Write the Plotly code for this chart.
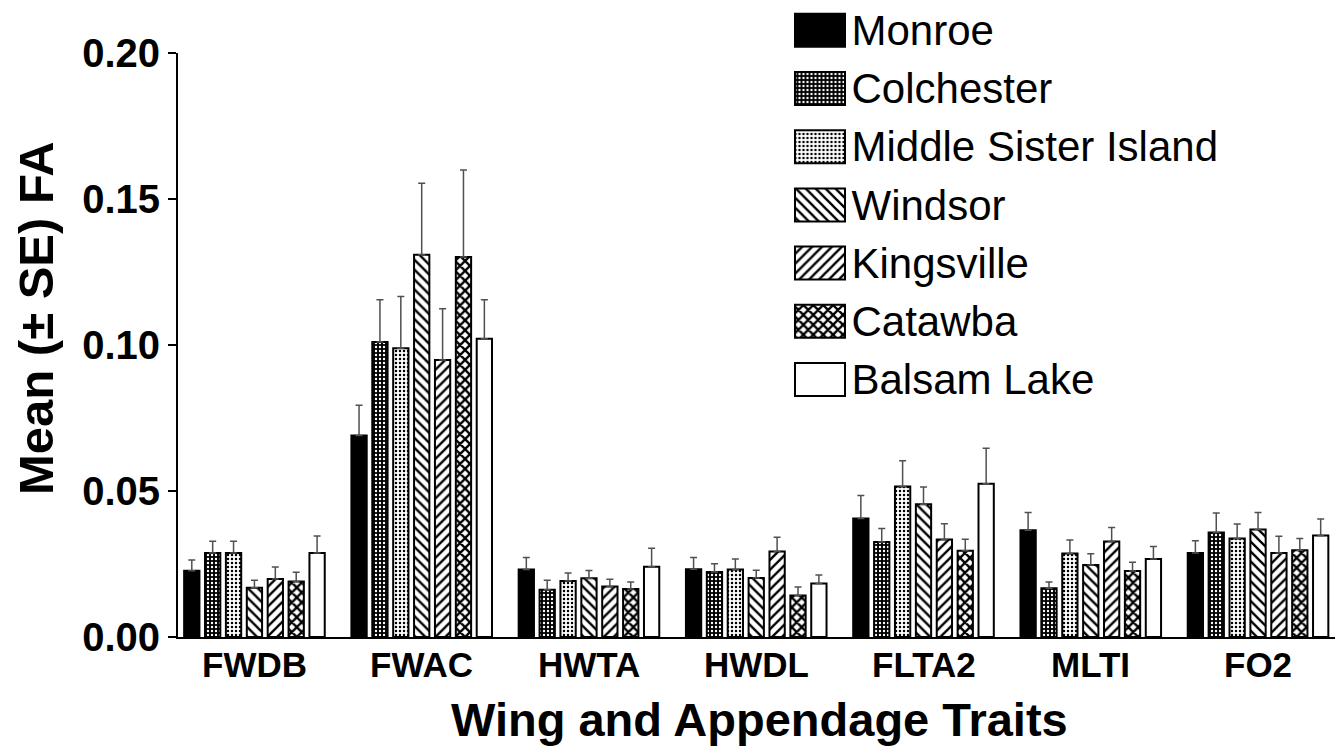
import plotly.graph_objects as go

traits = ["FWDB", "FWAC", "HWTA", "HWDL", "FLTA2", "MLTI", "FO2"]
populations = ["Monroe", "Colchester", "Middle Sister Island", "Windsor",
               "Kingsville", "Catawba", "Balsam Lake"]

monroe_mean = [0.0227, 0.0690, 0.0231, 0.0232, 0.0406, 0.0366, 0.0288]
monroe_se = [0.0037, 0.0104, 0.0041, 0.0040, 0.0079, 0.0060, 0.0042]
colchester_mean = [0.0288, 0.1010, 0.0162, 0.0223, 0.0325, 0.0167, 0.0358]
colchester_se = [0.0040, 0.0145, 0.0032, 0.0028, 0.0047, 0.0021, 0.0067]
msi_mean = [0.0288, 0.0989, 0.0192, 0.0231, 0.0515, 0.0286, 0.0337]
msi_se = [0.0040, 0.0177, 0.0027, 0.0036, 0.0089, 0.0046, 0.0050]
windsor_mean = [0.0169, 0.1309, 0.0201, 0.0202, 0.0455, 0.0247, 0.0368]
windsor_se = [0.0025, 0.0245, 0.0027, 0.0027, 0.0059, 0.0038, 0.0058]
kingsville_mean = [0.0199, 0.0949, 0.0173, 0.0293, 0.0334, 0.0327, 0.0288]
kingsville_se = [0.0041, 0.0175, 0.0025, 0.0049, 0.0054, 0.0048, 0.0057]
catawba_mean = [0.0190, 0.1301, 0.0164, 0.0142, 0.0295, 0.0226, 0.0297]
catawba_se = [0.0032, 0.0298, 0.0024, 0.0029, 0.0040, 0.0030, 0.0040]
balsam_mean = [0.0288, 0.1021, 0.0241, 0.0183, 0.0525, 0.0267, 0.0348]
balsam_se = [0.0058, 0.0134, 0.0063, 0.0029, 0.0121, 0.0043, 0.0056]

y_ticks = [0.00, 0.05, 0.10, 0.15, 0.20]
y_title = "Mean (\u00b1 SE) FA"
x_title = "Wing and Appendage Traits"

means = [monroe_mean, colchester_mean, msi_mean, windsor_mean,
         kingsville_mean, catawba_mean, balsam_mean]
ses = [monroe_se, colchester_se, msi_se, windsor_se,
       kingsville_se, catawba_se, balsam_se]

# fill styles: (shape, fg, bg, size, solidity)
styles = [
    ("", "black", "black", 8, 0.3),
    (".", "white", "black", 4, 0.28),
    (".", "black", "white", 4, 0.3),
    ("\\", "black", "white", 7, 0.33),
    ("/", "black", "white", 7, 0.33),
    ("x", "black", "white", 7, 0.55),
    ("", "white", "white", 8, 0.3),
]

FONT = "Liberation Sans, Arial, Helvetica, sans-serif"

# figure geometry (page body has an 8px margin)
W, H = 1335, 742
L, B = 170, 113
PW, PH = W - L, H - B          # plot area size


def fx(px):   # figure pixel x -> paper x
    return (px - L) / PW


def fy(py):   # figure pixel y (from top) -> paper y
    return (PH - py) / PH


def pattern(st):
    shape, fg, bg, size, sol = st
    return dict(shape=shape, fgcolor=fg, bgcolor=bg, size=size,
                solidity=sol, fillmode="replace")


fig = go.Figure()
for name, m, s, st in zip(populations, means, ses, styles):
    fig.add_trace(go.Bar(
        x=traits, y=m, name=name, showlegend=False,
        marker=dict(color=st[2], line=dict(color="black", width=2),
                    pattern=pattern(st)),
        error_y=dict(type="data", symmetric=False, array=s,
                     arrayminus=[0] * len(s), color="#505050",
                     thickness=1.5, width=3.5),
    ))

# legend drawn as an inset of horizontal swatches
for name, st in zip(populations, styles):
    fig.add_trace(go.Bar(
        y=[name], x=[1], orientation="h",
        xaxis="x2", yaxis="y2", showlegend=False,
        width=0.567, offset=-0.2835,
        marker=dict(color=st[2], line=dict(color="black", width=2),
                    pattern=pattern(st)),
        hoverinfo="skip",
    ))

leg_pitch = 58.2
leg_first = 22.3
leg_bottom = 400.6

fig.update_layout(
    width=W, height=H,
    margin=dict(l=L, r=0, t=0, b=B, pad=0, autoexpand=False),
    paper_bgcolor="white", plot_bgcolor="white",
    barmode="group", bargap=0.126, bargroupgap=0.268,
    font=dict(family=FONT, color="black"),
    xaxis=dict(type="category", range=[-0.457, 6.508],
               showline=True, linecolor="black", linewidth=2,
               ticks="", showgrid=False, zeroline=False,
               showticklabels=False, automargin=False),
    yaxis=dict(domain=[0, fy(45)], range=[0, 0.20],
               tickvals=y_ticks, tickformat=".2f",
               showline=True, linecolor="black", linewidth=2,
               ticks="outside", ticklen=8, tickwidth=2, tickcolor="black",
               showgrid=False, zeroline=False, automargin=False,
               tickfont=dict(size=40, weight="bold"),
               ticklabelstandoff=0),
    xaxis2=dict(domain=[fx(785.5), fx(838.5)],
                range=[-0.03, 1.03], anchor="y2", visible=False,
                fixedrange=True, automargin=False),
    yaxis2=dict(domain=[fy(leg_bottom), 1],
                anchor="x2", type="category",
                categoryorder="array", categoryarray=populations,
                range=[6.5, -leg_first / leg_pitch],
                side="right", showline=False, ticks="", showgrid=False,
                zeroline=False, tickfont=dict(size=42),
                ticklabelstandoff=4, automargin=False),
)

annotations = [
    dict(text=y_title, textangle=-90, xref="paper", yref="paper",
         x=fx(28), y=fy(310), xanchor="center", yanchor="middle",
         showarrow=False, font=dict(size=49, weight="bold")),
    dict(text=x_title, xref="paper", yref="paper",
         x=fx(751), y=fy(711), xanchor="center", yanchor="middle",
         showarrow=False, font=dict(size=47, weight="bold")),
]
for t in traits:
    annotations.append(dict(
        text=t, xref="x", yref="paper", x=t, y=fy(656),
        xanchor="center", yanchor="middle", showarrow=False,
        font=dict(size=35, weight="bold")))
fig.update_layout(annotations=annotations)

fig.write_html("out.html")
